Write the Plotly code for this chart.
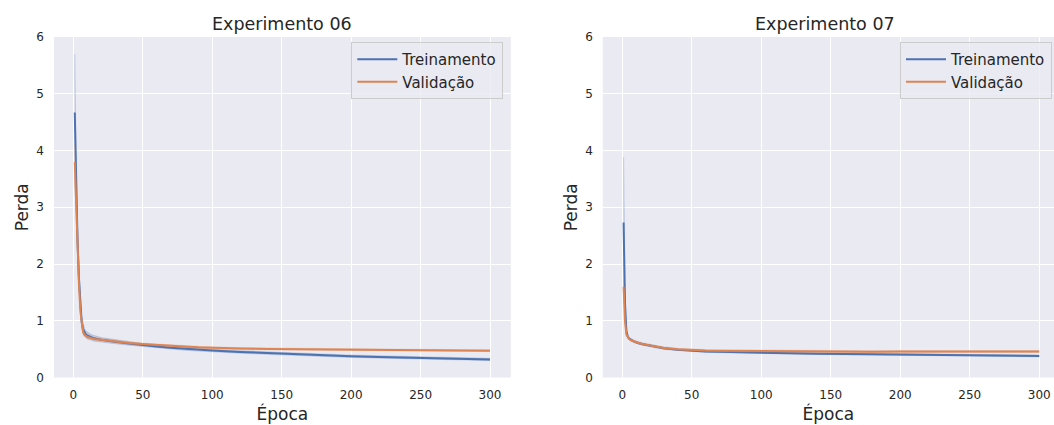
import plotly.graph_objects as go

epochs = [1, 2, 3, 4, 5, 6, 7, 8, 9, 10, 12, 15, 20, 25, 30, 40, 50, 60, 70, 80,
          90, 100, 120, 140, 160, 180, 200, 220, 240, 260, 280, 300]

train06 = [4.67, 3.2, 2.4, 1.75, 1.25, 0.97, 0.85, 0.79, 0.76, 0.74, 0.715, 0.69, 0.665, 0.645,
           0.63, 0.60, 0.57, 0.545, 0.525, 0.505, 0.49, 0.475, 0.45, 0.43, 0.405, 0.39, 0.374,
           0.362, 0.352, 0.34, 0.33, 0.318]
val06 = [3.8, 2.95, 2.25, 1.65, 1.18, 0.92, 0.80, 0.75, 0.73, 0.715, 0.70, 0.68, 0.665, 0.65,
         0.635, 0.61, 0.59, 0.572, 0.558, 0.545, 0.532, 0.522, 0.51, 0.503, 0.50, 0.495, 0.49,
         0.487, 0.483, 0.48, 0.477, 0.472]
train07 = [2.73, 1.3, 0.82, 0.72, 0.685, 0.665, 0.65, 0.64, 0.63, 0.62, 0.605, 0.585, 0.56, 0.535,
           0.515, 0.49, 0.468, 0.458, 0.452, 0.446, 0.44, 0.435, 0.428, 0.42, 0.415, 0.41, 0.403,
           0.40, 0.395, 0.39, 0.392, 0.38]
val07 = [1.6, 1.0, 0.76, 0.705, 0.68, 0.66, 0.65, 0.64, 0.632, 0.622, 0.607, 0.588, 0.565, 0.54,
         0.52, 0.497, 0.482, 0.475, 0.47, 0.468, 0.465, 0.462, 0.458, 0.456, 0.455, 0.455, 0.456,
         0.455, 0.457, 0.46, 0.462, 0.457]

# band half-widths (spread across runs)
spread_train06 = [1.03, 0.4, 0.25, 0.15, 0.12, 0.1, 0.08, 0.07, 0.06, 0.06, 0.05, 0.05, 0.04, 0.04,
                  0.035, 0.03, 0.025, 0.025, 0.025, 0.025, 0.025, 0.025, 0.022, 0.022, 0.022, 0.02,
                  0.02, 0.02, 0.02, 0.02, 0.02, 0.02]
spread_val06 = [0.3, 0.2, 0.15, 0.1, 0.08, 0.05, 0.04, 0.03, 0.03, 0.025, 0.02, 0.02, 0.02, 0.02,
                0.02, 0.02, 0.015, 0.015, 0.015, 0.015, 0.015, 0.015, 0.015, 0.015, 0.015, 0.015,
                0.015, 0.015, 0.015, 0.015, 0.015, 0.015]
spread_train07 = [1.15, 0.3, 0.08, 0.04, 0.02, 0.02, 0.02, 0.02, 0.02, 0.02, 0.02, 0.02, 0.02, 0.02,
                  0.02, 0.015, 0.015, 0.015, 0.015, 0.015, 0.015, 0.015, 0.015, 0.015, 0.015, 0.015,
                  0.015, 0.015, 0.015, 0.015, 0.015, 0.015]
spread_val07 = [0.1, 0.05, 0.02, 0.015, 0.015, 0.015, 0.015, 0.015, 0.015, 0.015, 0.015, 0.015,
                0.015, 0.015, 0.015, 0.015, 0.015, 0.015, 0.015, 0.015, 0.015, 0.015, 0.015, 0.015,
                0.015, 0.015, 0.015, 0.015, 0.015, 0.015, 0.015, 0.015]

titles = ["Experimento 06", "Experimento 07"]
series_names = ["Treinamento", "Validação"]
x_ticks = [0, 50, 100, 150, 200, 250, 300]
y_ticks = [0, 1, 2, 3, 4, 5, 6]

BLUE = "#4C72B0"
ORANGE = "#DD8452"
BAND = {BLUE: "rgba(76,114,176,0.22)", ORANGE: "rgba(221,132,82,0.22)"}
TXT = "#262626"
FONT = "DejaVu Sans"

W, H = 1054, 425
fig = go.Figure()

panels = [
    dict(xa="x", ya="y", legend="legend", data=[(train06, spread_train06, BLUE), (val06, spread_val06, ORANGE)]),
    dict(xa="x2", ya="y2", legend="legend2", data=[(train07, spread_train07, BLUE), (val07, spread_val07, ORANGE)]),
]

for p in panels:
    for (vals, spr, col), name in zip(p["data"], series_names):
        lo = [v - s for v, s in zip(vals, spr)]
        hi = [v + s for v, s in zip(vals, spr)]
        fig.add_trace(go.Scatter(x=epochs, y=lo, mode="lines", line=dict(width=1, color=BAND[col]),
                                 xaxis=p["xa"], yaxis=p["ya"], showlegend=False, hoverinfo="skip"))
        fig.add_trace(go.Scatter(x=epochs, y=hi, mode="lines", line=dict(width=1.2, color=BAND[col]),
                                 fill="tonexty", fillcolor=BAND[col],
                                 xaxis=p["xa"], yaxis=p["ya"], showlegend=False, hoverinfo="skip"))
        fig.add_trace(go.Scatter(x=epochs, y=vals, mode="lines", name=name,
                                 line=dict(width=2, color=col),
                                 xaxis=p["xa"], yaxis=p["ya"], legend=p["legend"]))

ytop, ybot = 37, 377.5
dom_y = [1 - ybot / H, 1 - ytop / H]
dom_x1 = [54 / W, 510.8 / W]
dom_x2 = [602.8 / W, 1.0]

axis_common = dict(
    showgrid=True, gridcolor="white", gridwidth=1.2, zeroline=False, showline=False,
    ticks="", automargin=False, tickfont=dict(family=FONT, size=12, color=TXT),
    title_font=dict(family=FONT, size=17, color=TXT),
)

legend_common = dict(
    xanchor="right", yanchor="top", traceorder="normal", itemwidth=40,
    bgcolor="rgba(234,234,242,0.8)", bordercolor="#CCCCCC", borderwidth=1,
    font=dict(family=FONT, size=15, color=TXT),
)

fig.update_layout(
    template="none",
    width=W, height=H,
    margin=dict(l=0, r=0, t=0, b=0, pad=0, autoexpand=False),
    paper_bgcolor="white",
    plot_bgcolor="#EAEAF2",
    font=dict(family=FONT, color=TXT),
    xaxis=dict(domain=dom_x1, anchor="y", range=[-13.95, 314.95], tickvals=x_ticks,
               ticklabelstandoff=8, title=dict(text="Época", standoff=7), **axis_common),
    yaxis=dict(domain=dom_y, anchor="x", range=[0, 6], tickvals=y_ticks,
               ticklabelstandoff=9, title=dict(text="Perda", standoff=3), **axis_common),
    xaxis2=dict(domain=dom_x2, anchor="y2", range=[-13.95, 310.6], tickvals=x_ticks,
                ticklabelstandoff=8, title=dict(text="Época", standoff=7), **axis_common),
    yaxis2=dict(domain=dom_y, anchor="x2", range=[0, 6], tickvals=y_ticks,
                ticklabelstandoff=9, title=dict(text="Perda", standoff=3), **axis_common),
    legend=dict(x=503.3 / W, y=1 - 42 / H, **legend_common),
    legend2=dict(x=1052 / W, y=1 - 42 / H, **legend_common),
    annotations=[
        dict(text=titles[0], x=(dom_x1[0] + dom_x1[1]) / 2, y=1 - 23.5 / H, xref="paper", yref="paper",
             xanchor="center", yanchor="middle", showarrow=False,
             font=dict(family=FONT, size=17.5, color=TXT)),
        dict(text=titles[1], x=825 / W, y=1 - 23.5 / H, xref="paper", yref="paper",
             xanchor="center", yanchor="middle", showarrow=False,
             font=dict(family=FONT, size=17.5, color=TXT)),
    ],
    showlegend=True,
)

fig.write_html(
    "out.html",
    config={"displayModeBar": False},
    post_script="document.body.style.margin='0';document.body.style.overflow='hidden';window.dispatchEvent(new Event('resize'));",
)
